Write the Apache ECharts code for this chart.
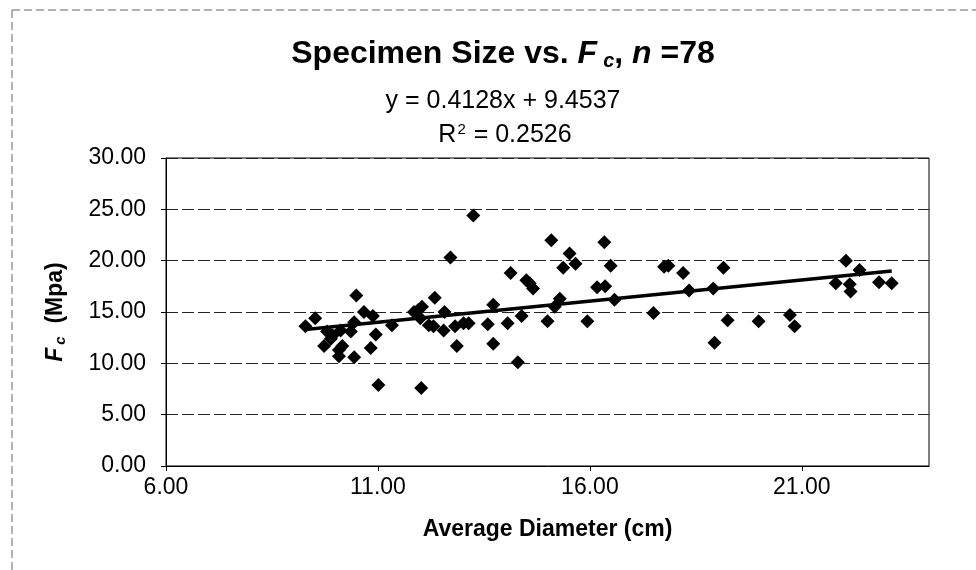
<!DOCTYPE html>
<html>
<head>
<meta charset="utf-8">
<style>
  html, body { margin: 0; padding: 0; background: #fff; }
  #chart { width: 976px; height: 570px; }
</style>
<script src="https://cdn.jsdelivr.net/npm/echarts@6/dist/echarts.min.js"></script>
</head>
<body>
<div id="chart"></div>
<script>
// ---- Data ----
const diameters = [
  9.29, 9.52, 9.73, 9.89, 9.93, 9.80, 10.08, 10.08, 10.16, 10.12,
  10.36, 10.44, 10.49, 10.44, 10.67, 10.88, 10.83, 10.95, 11.33, 11.01,
  11.85, 12.00, 12.04, 12.20, 12.31, 12.34, 12.55, 12.57, 12.71, 12.82,
  12.86, 13.02, 13.14, 13.25, 13.59, 13.72, 13.72, 12.02, 14.06, 14.13,
  14.30, 11.95, 14.50, 14.66, 14.58, 14.39, 15.00, 15.09, 15.52, 15.37,
  15.66, 15.17, 15.29, 15.94, 16.34, 16.49, 16.17, 16.36, 16.58, 17.50,
  17.75, 17.85, 18.20, 18.34, 18.91, 19.15, 18.94, 19.25, 19.98, 20.72,
  20.83, 22.04, 22.36, 21.80, 22.13, 22.15, 22.82, 23.12
];
const strengths = [
  13.6, 14.4, 11.7, 12.4, 12.7, 13.1, 10.7, 11.3, 11.7, 13.2,
  13.1, 14.0, 16.6, 10.6, 15.0, 14.6, 11.5, 12.8, 13.7, 7.9,
  15.0, 14.4, 15.5, 13.7, 13.6, 16.4, 13.2, 15.0, 20.3, 13.6,
  11.7, 13.9, 13.9, 24.4, 13.8, 15.7, 11.9, 7.6, 13.9, 18.8,
  10.1, 15.2, 18.1, 17.3, 17.8, 14.6, 14.1, 22.0, 20.7, 19.3,
  19.7, 15.5, 16.3, 14.1, 21.8, 19.5, 17.4, 17.5, 16.2, 14.9,
  19.4, 19.5, 18.8, 17.1, 17.3, 19.3, 12.0, 14.2, 14.1, 14.7,
  13.6, 20.0, 19.1, 17.8, 17.7, 17.0, 17.9, 17.8
];
// Regression reported on the chart
const trendSlope = 0.4128;
const trendIntercept = 9.4537;
const rSquared = '0.2526';
const sampleCount = 78;
// Axis settings
const xMin = 6, xMax = 24, xStep = 5;
const yMin = 0, yMax = 30, yStep = 5;

const points = diameters.map((d, i) => [d, strengths[i]]);
const dMin = Math.min(...diameters), dMax = Math.max(...diameters);
const trendPoints = [dMin, dMax].map(x => [x, trendSlope * x + trendIntercept]);

const FONT = '"Liberation Sans", Arial, sans-serif';
const chart = echarts.init(document.getElementById('chart'), null, { renderer: 'canvas' });

chart.setOption({
  backgroundColor: '#ffffff',
  animation: false,
  textStyle: { fontFamily: FONT, color: '#000' },
  title: [
    {
      left: 498, top: 32, textAlign: 'center',
      text: '{b|Specimen Size vs. }{i|F}{sub|c}{b|, }{i|n}{b| =' + sampleCount + '}',
      textStyle: {
        rich: {
          b: { fontFamily: FONT, fontSize: 32, fontWeight: 'bold', color: '#000' },
          i: { fontFamily: FONT, fontSize: 32, fontWeight: 'bold', fontStyle: 'italic', color: '#000' },
          sub: { fontFamily: FONT, fontSize: 20, fontWeight: 'bold', fontStyle: 'italic', color: '#000', padding: [14, 0, 0, 6] }
        }
      }
    },
    {
      left: 498, top: 84, textAlign: 'center',
      text: 'y = ' + trendSlope + 'x + ' + trendIntercept,
      textStyle: { fontFamily: FONT, fontSize: 25, fontWeight: 'normal', color: '#000' }
    },
    {
      left: 500, top: 117, textAlign: 'center',
      text: '{n|R}{sup|2}{n| = ' + rSquared + '}',
      textStyle: {
        fontWeight: 'normal',
        rich: {
          n: { fontFamily: FONT, fontSize: 25, fontWeight: 'normal', color: '#000' },
          sup: { fontFamily: FONT, fontSize: 15, fontWeight: 'normal', color: '#000', padding: [0, 1, 12, 1] }
        }
      }
    }
  ],
  graphic: [
    { type: 'line', shape: { x1: 12, y1: 10, x2: 976, y2: 10 }, style: { stroke: '#666', lineWidth: 1, lineDash: [8, 4] }, silent: true },
    { type: 'line', shape: { x1: 12, y1: 10, x2: 12, y2: 570 }, style: { stroke: '#666', lineWidth: 1, lineDash: [8, 4] }, silent: true }
  ],
  grid: { left: 166, right: 47, top: 158, bottom: 104, show: true, borderColor: '#000', borderWidth: 1, backgroundColor: '#fff' },
  xAxis: {
    type: 'value', min: xMin, max: xMax, interval: xStep,
    name: 'Average Diameter (cm)', nameLocation: 'middle', nameGap: 52,
    nameTextStyle: { fontFamily: FONT, fontSize: 23, fontWeight: 'bold', color: '#000' },
    axisLine: { show: true, lineStyle: { color: '#000', width: 1 } },
    axisTick: { show: true, inside: false, length: 5, lineStyle: { color: '#000' } },
    axisLabel: { show: true, margin: 10, fontFamily: FONT, fontSize: 23, color: '#000', showMaxLabel: false,
      formatter: v => v.toFixed(2) },
    splitLine: { show: false }
  },
  yAxis: {
    type: 'value', min: yMin, max: yMax, interval: yStep,
    name: '{i|F}{sub|c}{b|  (Mpa)}', nameLocation: 'middle', nameGap: 98, nameRotate: 90,
    nameTextStyle: {
      rich: {
        i: { fontFamily: FONT, fontSize: 23, fontWeight: 'bold', fontStyle: 'italic', color: '#000' },
        sub: { fontFamily: FONT, fontSize: 15, fontWeight: 'bold', fontStyle: 'italic', color: '#000', padding: [10, 0, 0, 3] },
        b: { fontFamily: FONT, fontSize: 23, fontWeight: 'bold', color: '#000' }
      }
    },
    axisLine: { show: true, lineStyle: { color: '#000', width: 1 } },
    axisTick: { show: true, inside: false, length: 5, lineStyle: { color: '#000' } },
    axisLabel: { show: true, margin: 20, fontFamily: FONT, fontSize: 23, color: '#000',
      formatter: v => v.toFixed(2) },
    splitLine: { show: true, lineStyle: { color: '#222', width: 1, type: [12, 4] } }
  },
  series: [
    {
      type: 'scatter', name: 'Fc', data: points,
      symbol: 'diamond', symbolSize: 14,
      itemStyle: { color: '#000', opacity: 1 }, z: 3
    },
    {
      type: 'line', name: 'Linear', data: trendPoints,
      showSymbol: false, symbol: 'none',
      lineStyle: { color: '#000', width: 3.5 }, z: 4
    }
  ]
});
</script>
</body>
</html>
